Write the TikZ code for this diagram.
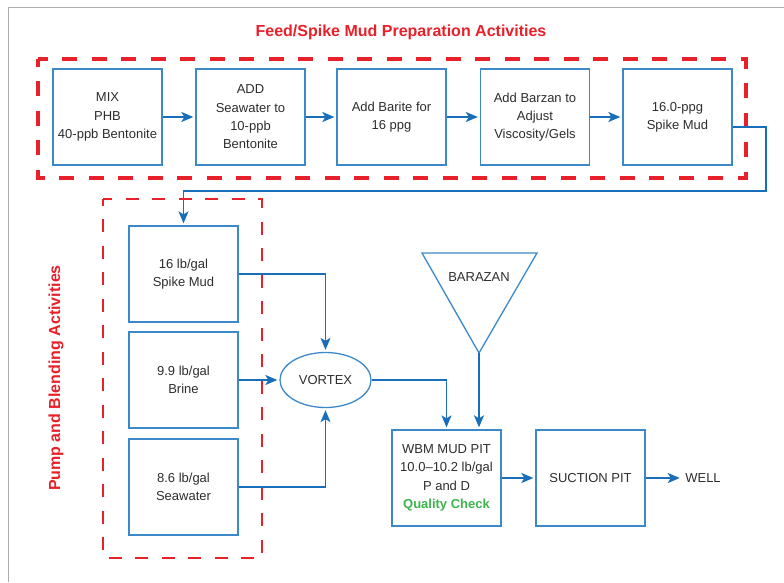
\documentclass[tikz,border=0pt]{standalone}
\usepackage{fontspec}
\setmainfont{Liberation Sans}
\usetikzlibrary{arrows.meta,shapes.geometric}
\definecolor{boxblue}{RGB}{60,136,200}
\definecolor{flowblue}{RGB}{25,110,185}
\definecolor{actred}{RGB}{232,32,42}
\definecolor{checkgreen}{RGB}{60,180,75}
\definecolor{txtgray}{RGB}{45,45,45}
\begin{document}
\begin{tikzpicture}[x=1pt,y=-1pt,
  label text/.style={text=txtgray,font=\fontsize{13}{18.3}\selectfont},
  box/.style={label text,draw=boxblue,line width=1.3pt,minimum width=109pt,minimum height=96pt,inner sep=2pt,align=center},
  flow/.style={draw=flowblue,line width=1.3pt,-{Stealth[length=12pt,width=10pt,inset=3pt]},shorten >=2pt},
  bold flow/.style={flow,line width=2pt},
  zone/.style={draw=actred,line width=3.2pt,dash pattern=on 15pt off 14.5pt,dash phase=7.5pt},
  zonetitle/.style={text=actred,font=\fontsize{16}{18}\selectfont\bfseries}]
\useasboundingbox (0,0) rectangle (784,582);
\draw[gray!65,line width=0.8pt] (8,582) -- (8,7) -- (784,7); %frame
% feed/spike mud preparation
\node[zonetitle] (feedtitle) at (401,32) {Feed/Spike Mud Preparation Activities};
\draw[zone] (38,59) rectangle (746,178);
\foreach \n/\x/\t in {mix/107.5/{MIX\\PHB\\40-ppb Bentonite},
  addsea/250.5/{ADD\\Seawater to\\10-ppb\\Bentonite},
  barite/391.5/{Add Barite for\\16 ppg},
  barzan/535/{Add Barzan to\\Adjust\\Viscosity/Gels},
  spike/677.5/{16.0-ppg\\Spike Mud}}
\node[box] (\n) at (\x,117) {\t};
\foreach \a/\b in {mix/addsea,addsea/barite,barite/barzan,barzan/spike}
\draw[bold flow] (\a) -- (\b);
% pump and blending
\node[zonetitle,rotate=90] (pumptitle) at (56,378) {Pump and Blending Activities};
\draw[zone,line width=2.8pt,dash pattern=on 13pt off 13.5pt,dash phase=6.5pt] (103,199) rectangle (262,558);
\node[box] (spikemud) at (183.5,274) {16 lb/gal\\Spike Mud};
\node[box] (brine) at (183.5,380) {9.9 lb/gal\\Brine};
\node[box] (seawater) at (183.5,487) {8.6 lb/gal\\Seawater};
\coordinate (turn) at (766,191);
\draw[flow] ([yshift=-10pt]spike.east) -| (turn) -| (spikemud.north);
\node[label text,draw=boxblue,line width=1.3pt,ellipse,minimum width=91pt,minimum height=55pt,inner sep=0pt] (vortex) at (325.5,380) {VORTEX};
\draw[flow] (spikemud.east) -| (vortex.north);
\draw[bold flow] (brine.east) -- (vortex.west);
\draw[flow] (seawater.east) -| (vortex.south);
% mud pit and well
\draw[draw=boxblue,line width=1.3pt] (422,253) -- (537,253) -- (479,353) coordinate (apex) -- cycle;
\node[label text] (barazan) at (479,277) {BARAZAN};
\node[box] (wbm) at (446.5,478) {WBM MUD PIT\\10.0--10.2 lb/gal\\P and D\\{\color{checkgreen}\bfseries Quality Check}};
\node[box] (suction) at (590.5,478) {SUCTION PIT};
\node[label text] (well) at (703,478) {WELL};
\draw[flow] (vortex.east) -| (wbm.north);
\draw[bold flow] (apex) -- (apex |- wbm.north);
\draw[bold flow] (wbm) -- (suction);
\draw[bold flow] (suction) -- (well);
\end{tikzpicture}
\end{document}
